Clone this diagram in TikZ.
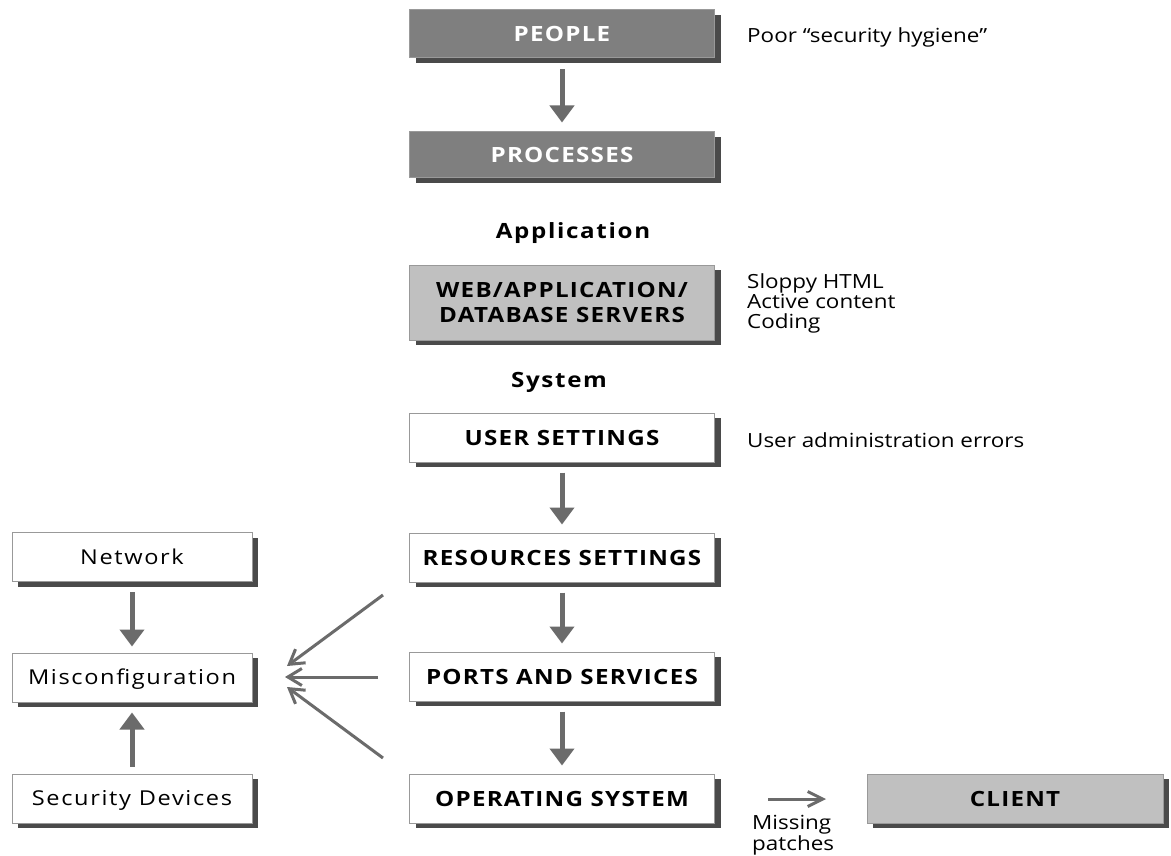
\documentclass[tikz,border=0pt]{standalone}
\usepackage{fontspec}
\setmainfont{Open Sans}[FakeStretch=1.15]
\usetikzlibrary{arrows.meta,shadows}

\definecolor{arrowgray}{HTML}{6B6B6B}
\definecolor{shadowgray}{HTML}{4A4A4A}
\definecolor{boxedge}{HTML}{999999}
\definecolor{darkfill}{HTML}{7F7F7F}
\definecolor{lightfill}{HTML}{C0C0C0}

\newcommand{\capsfont}{\fontsize{21}{25}\selectfont\bfseries\addfontfeature{LetterSpace=6}}
\newcommand{\labelfont}{\fontsize{20.5}{24}\selectfont\addfontfeature{LetterSpace=8}}
\newcommand{\notefont}{\fontsize{19.5}{20}\selectfont}

\begin{document}
\begin{tikzpicture}[x=1pt,y=-1pt,
  plainbox/.style={draw=boxedge, line width=1pt, fill=white, minimum width=305pt,
    minimum height=49pt, inner sep=0pt, align=center, text=black,
    drop shadow={shadow xshift=6pt, shadow yshift=-5pt, fill=shadowgray, opacity=1},
    font=\capsfont},
  box/.style={plainbox, text height=15pt, text depth=0pt},
  darkbox/.style={box, fill=darkfill, text=white},
  lightbox/.style={box, fill=lightfill},
  sidebox/.style={box, minimum width=240pt, font=\labelfont, text height=14.5pt},
  heading/.style={anchor=base, inner sep=0pt,
    font=\fontsize{21}{25}\selectfont\bfseries\addfontfeature{LetterSpace=8}},
  note/.style={anchor=north west, inner sep=0pt, align=left, font=\notefont},
  flow/.style={draw=arrowgray, line width=5pt,
    -{Triangle[length=17pt,width=24pt]}},
  feed/.style={draw=arrowgray, line width=3pt,
    -{Straight Barb[length=14pt,width=17pt]}}
]
\useasboundingbox[fill=white] (0,0) rectangle (1171,856);

% main column
\node[darkbox, minimum height=48pt] (people) at (562,34) {PEOPLE};
\node[darkbox, minimum height=46pt] (proc) at (562,155) {PROCESSES};
\node[heading] (app) at (573,238) {Application};
\node[plainbox, fill=lightfill, minimum height=75pt]
  (web) at (562,302.5) {WEB/APPLICATION/\\DATABASE SERVERS};
\node[heading] (sys) at (559,387) {System};
\node[box] (user) at (562,437.5) {USER SETTINGS};
\node[box] (res) at (562,557.5) {RESOURCES SETTINGS};
\node[box] (ports) at (562,676.5) {PORTS AND SERVICES};
\node[box] (os) at (562,798.5) {OPERATING SYSTEM};

% left column
\node[sidebox] (net) at (132,557) {Network};
\node[sidebox] (misc) at (132,677.5) {Misconfiguration};
\node[sidebox] (sec) at (132,798.5) {Security Devices};

% client
\node[lightbox, minimum width=296pt] (client) at (1015,798.5) {CLIENT};

% side notes
\node[note] (poor) at (747,27) {Poor “security hygiene”};
\node[note] (sloppy) at (747,273) {Sloppy HTML\\Active content\\Coding};
\node[note] (uadm) at (747,432) {User administration errors};
\node[note, font=\fontsize{19.5}{16}\selectfont] (miss) at (752,815) {Missing\\patches};

% flow arrows
\draw[flow, shorten <=11pt, shorten >=9pt] (people.south) -- (proc.north);
\draw[flow, shorten <=10pt, shorten >=8pt] (user.south) -- (res.north);
\draw[flow, shorten <=10pt, shorten >=8pt] (res.south) -- (ports.north);
\draw[flow, shorten <=10pt, shorten >=8pt] (ports.south) -- (os.north);
\draw[flow, shorten <=10pt, shorten >=6pt] (net.south) -- (misc.north);
\draw[flow, shorten <=7pt, shorten >=10pt] (sec.north) -- (misc.south);

% feeds into misconfiguration
\coordinate (s1) at (383,595);
\coordinate (s2) at (378,677);
\coordinate (s3) at (383,758);
\coordinate (t1) at (287,666);
\coordinate (t2) at (285,677);
\coordinate (t3) at (287,687);
\draw[feed] (s1) -- (t1);
\draw[feed] (s2) -- (t2);
\draw[feed] (s3) -- (t3);

% patch arrow
\coordinate (p1) at (768,799);
\coordinate (p2) at (826,799);
\draw[feed, -{Straight Barb[length=15pt,width=15pt]}] (p1) -- (p2);
\end{tikzpicture}
\end{document}
